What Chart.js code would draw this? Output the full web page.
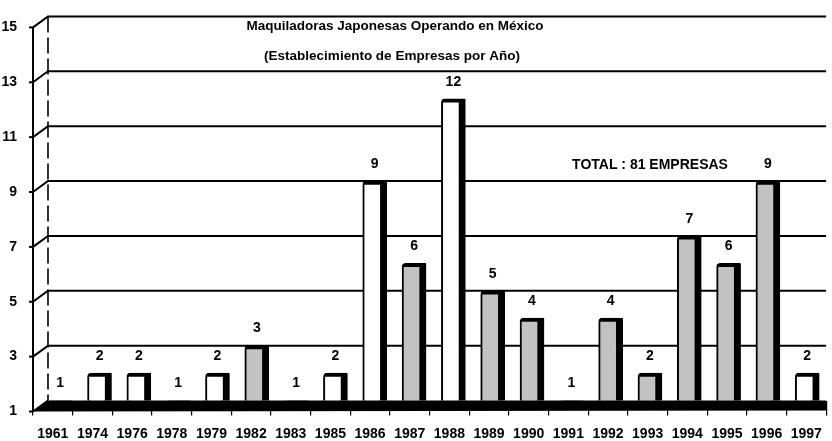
<!DOCTYPE html>
<html><head><meta charset="utf-8">
<script src="https://cdn.jsdelivr.net/npm/chart.js@4/dist/chart.umd.min.js"></script>
<style>html,body{margin:0;padding:0;background:#fff;overflow:hidden}#wrap{width:832px;height:441px}</style>
</head><body>
<div id="wrap"><canvas id="c"></canvas></div>
<script>
// ---- data ----
const categories = ['1961','1974','1976','1978','1979','1982','1983','1985','1986','1987','1988','1989','1990','1991','1992','1993','1994','1995','1996','1997'];
const empresas = [1,2,2,1,2,3,1,2,9,6,12,5,4,1,4,2,7,6,9,2];
const yTicks = [1,3,5,7,9,11,13,15];
const titleLines = ['Maquiladoras Japonesas Operando en México','(Establecimiento de Empresas por Año)'];
const totalEmpresas = empresas.reduce((a,b)=>a+b,0);
const totalLabel = 'TOTAL : ' + totalEmpresas + ' EMPRESAS';

// ---- style ----
const FONT = '"Liberation Sans", Arial, sans-serif';
const speckled = new Set(['1982','1987','1989','1990','1992','1993','1994','1995','1996']);
const DX = 15, DY = 11; // depth of the 3D wall

const deco = {
  id: 'deco',
  beforeDatasetsDraw(chart) {
    const ctx = chart.ctx, y = chart.scales.y, a = chart.chartArea;
    ctx.save();
    ctx.strokeStyle = '#000';
    ctx.lineWidth = 2;
    y.ticks.forEach(t => {
      const py = y.getPixelForValue(t.value);
      ctx.beginPath();
      ctx.moveTo(a.left, py + DY);
      ctx.lineTo(a.left + DX, py);
      if (t.value !== y.min) ctx.lineTo(a.right, py);
      ctx.stroke();
      ctx.beginPath();
      ctx.moveTo(a.left - 4, py + DY);
      ctx.lineTo(a.left, py + DY);
      ctx.stroke();
    });
    // front axis line
    ctx.beginPath();
    ctx.moveTo(a.left, y.getPixelForValue(y.max) + DY);
    ctx.lineTo(a.left, a.bottom + DY);
    ctx.stroke();
    // back wall edge (dashed)
    ctx.lineWidth = 1.6;
    ctx.setLineDash([16, 5]);
    ctx.beginPath();
    ctx.moveTo(a.left + DX, a.top);
    ctx.lineTo(a.left + DX, a.bottom);
    ctx.stroke();
    ctx.setLineDash([]);
    // titles
    ctx.fillStyle = '#000';
    ctx.textAlign = 'center';
    ctx.textBaseline = 'middle';
    ctx.font = 'bold 13.5px ' + FONT;
    ctx.fillText(titleLines[0], 395, 26);
    ctx.fillText(titleLines[1], 392, 56);
    ctx.font = 'bold 14px ' + FONT;
    ctx.fillText(totalLabel, 650, 165);
    ctx.restore();
  },
  afterDatasetsDraw(chart) {
    const ctx = chart.ctx, a = chart.chartArea;
    ctx.save();
    // floor
    ctx.fillStyle = '#000';
    ctx.beginPath();
    ctx.moveTo(a.left, a.bottom + DY);
    ctx.lineTo(a.left + DX, a.bottom);
    ctx.lineTo(a.right, a.bottom);
    ctx.lineTo(a.right, a.bottom + DY - 1);
    ctx.closePath();
    ctx.fill();
    // value labels
    ctx.font = 'bold 14px ' + FONT;
    ctx.textAlign = 'center';
    ctx.textBaseline = 'middle';
    const meta = chart.getDatasetMeta(0);
    meta.data.forEach((el, i) => {
      ctx.fillText(String(empresas[i]), el.x, el.y - 17);
    });
    ctx.restore();
  }
};

new Chart(document.getElementById('c'), {
  type: 'bar',
  data: {
    labels: categories,
    datasets: [{
      data: empresas.map((v, i) => ({ x: i, y: v })),
      xAxisID: 'x',
      yAxisID: 'y',
      backgroundColor: categories.map(c => speckled.has(c) ? '#c2c2c2' : '#ffffff'),
      borderColor: '#000',
      borderWidth: { left: 2, top: 4, right: 7, bottom: 0 },
      borderRadius: { topLeft: 4, topRight: 1 },
      borderSkipped: 'bottom',
      barThickness: 24
    }]
  },
  options: {
    responsive: true,
    maintainAspectRatio: false,
    animation: false,
    layout: { padding: { top: 12, left: 0, right: 0, bottom: 0 } },
    plugins: { legend: { display: false }, tooltip: { enabled: false }, title: { display: false } },
    scales: {
      x: { type: 'linear', display: false, offset: false, min: -0.692, max: 19.48 },
      xl: {
        type: 'category', position: 'bottom', offset: true,
        grid: { offset: true, drawOnChartArea: false, tickLength: 15, color: '#000', lineWidth: 1.2 },
        border: { display: false },
        ticks: { color: '#000', padding: 10, maxRotation: 0, autoSkip: false, font: { family: FONT, size: 14, weight: 'bold' } },
        afterFit: s => { s.height = 40.5; }
      },
      y: {
        type: 'linear', position: 'left', min: 1, max: 15,
        grid: { display: false },
        border: { display: false },
        afterBuildTicks: s => { s.ticks = yTicks.map(v => ({ value: v })); },
        ticks: { color: '#000', padding: 8, labelOffset: DY, font: { family: FONT, size: 14, weight: 'bold' } },
        afterFit: s => { s.width = 33; }
      }
    }
  },
  plugins: [deco]
});
</script>
</body></html>
